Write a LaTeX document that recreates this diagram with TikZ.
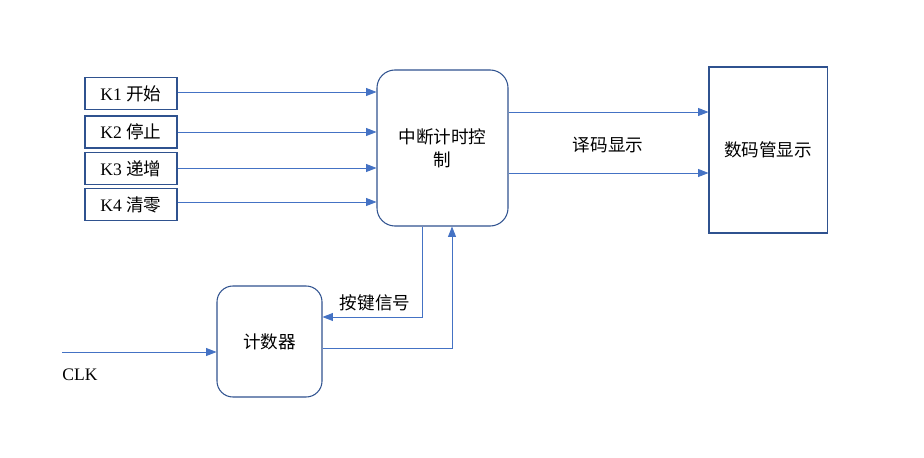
\documentclass[tikz,border=0pt]{standalone}
\usepackage{fontspec}
\setmainfont{Liberation Serif}
\newfontfamily\cjk{Noto Sans CJK SC}
\usetikzlibrary{arrows.meta}

\definecolor{lineblue}{RGB}{68,114,196}
\definecolor{boxblue}{RGB}{47,82,143}

\tikzset{
  keybox/.style={draw=boxblue, line width=0.75pt, minimum width=2.3cm, minimum height=0.8cm, inner sep=0pt},
  ctrlbox/.style={draw=boxblue, line width=0.75pt, rounded corners=0.45cm, inner sep=0pt},
  sig/.style={draw=lineblue, line width=0.6pt, -{Triangle[length=2.6mm,width=2mm]}},
  wire/.style={draw=lineblue, line width=0.6pt}
}

\begin{document}
\begin{tikzpicture}[x=0.025cm, y=-0.025cm, font=\fontsize{12.5}{15.5}\selectfont]
    \useasboundingbox (0,0) rectangle (924,458);

    % key inputs
    \node[keybox] (k1) at (131,93.5) {K1 {\cjk 开始}};
    \node[keybox] (k2) at (131,132) {K2 {\cjk 停止}};
    \node[keybox] (k3) at (131,168.5) {K3 {\cjk 递增}};
    \node[keybox] (k4) at (131,204.5) {K4 {\cjk 清零}};

    % blocks
    \node[ctrlbox, minimum width=3.275cm, minimum height=3.9cm, align=center] (ctrl) at (442.5,148) {\cjk 中断计时控\\[1pt]\cjk 制};
    \node[keybox, minimum width=2.95cm, minimum height=4.15cm] (disp) at (768,150) {\cjk 数码管显示};
    \node[ctrlbox, rounded corners=0.4cm, minimum width=2.625cm, minimum height=2.775cm] (cnt) at (269.5,341.5) {\cjk 计数器};

    % key lines
    \foreach \k/\yy in {k1/92, k2/132, k3/168, k4/202}
        \draw[sig] (\k.east |- 0,\yy) -- (ctrl.west |- 0,\yy);

    % decode lines
    \draw[sig] (ctrl.east |- 0,112) -- (disp.west |- 0,112);
    \draw[sig] (ctrl.east |- 0,173) -- (disp.west |- 0,173);
    \node (dec) at (608,145) {\cjk 译码显示};

    % counter loop
    \coordinate (kd) at (422,317);
    \coordinate (cu) at (452,348);
    \draw[sig] (ctrl.south -| kd) -- (kd) -- (cnt.east |- kd);
    \node (keysig) at (375,303) {\cjk 按键信号};
    \draw[sig] (cnt.east |- cu) -- (cu) -- (ctrl.south -| cu);

    % clock
    \coordinate (clk0) at (62,352);
    \draw[sig] (clk0) -- (cnt.west |- clk0);
    \node (clk) at (80,375) {CLK};
\end{tikzpicture}
\end{document}
